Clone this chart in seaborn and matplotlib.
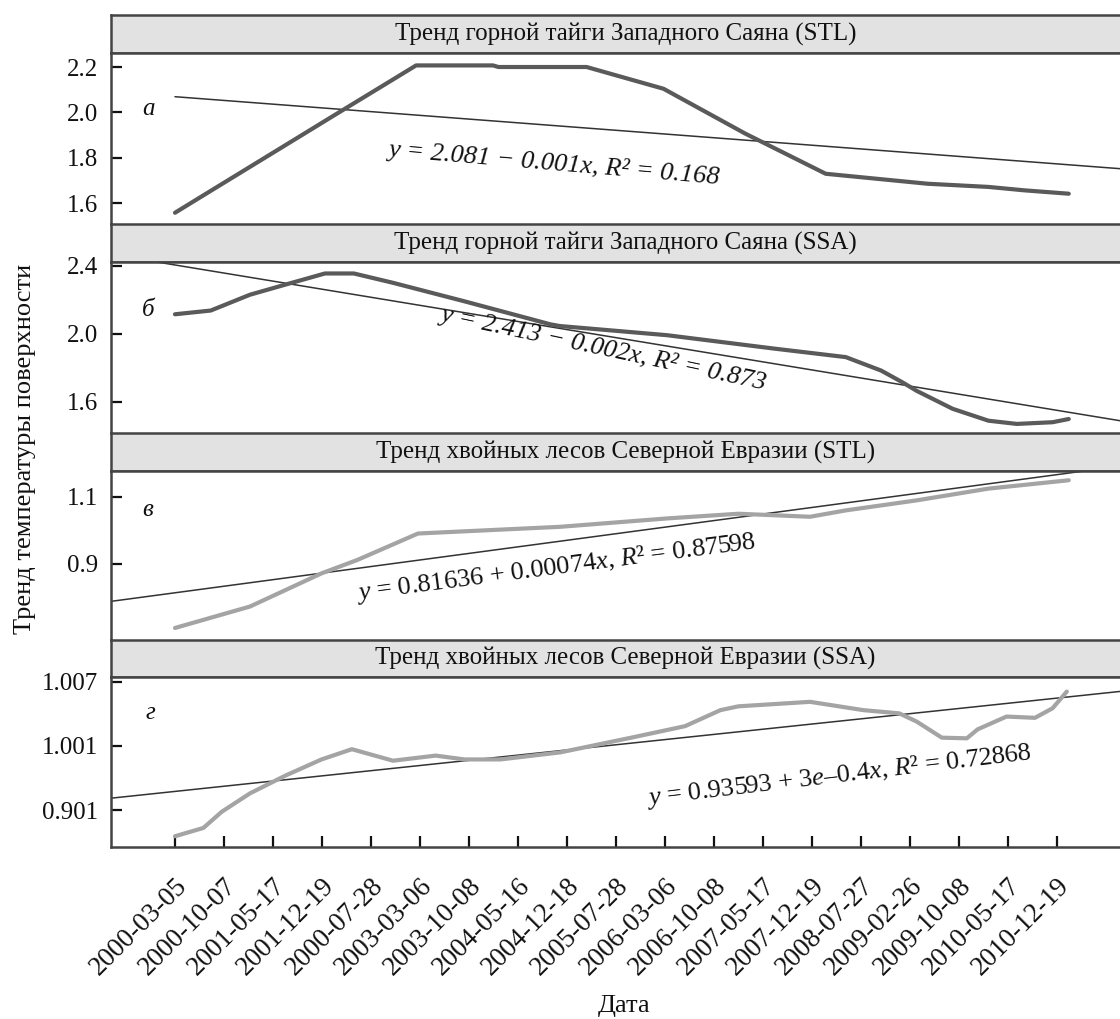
import numpy as np
import pandas as pd
import matplotlib
matplotlib.use("Agg")
import matplotlib.pyplot as plt
import seaborn as sns

sns.set_theme(style="white")
plt.rcParams['font.family'] = ['Liberation Serif', 'DejaVu Serif']
plt.rcParams['mathtext.fontset'] = 'custom'
plt.rcParams['mathtext.rm'] = 'Liberation Serif'
plt.rcParams['mathtext.it'] = 'Liberation Serif:italic'

# ---------------- data ----------------
date_labels = ["2000-03-05", "2000-10-07", "2001-05-17", "2001-12-19", "2000-07-28",
               "2003-03-06", "2003-10-08", "2004-05-16", "2004-12-18", "2005-07-28",
               "2006-03-06", "2006-10-08", "2007-05-17", "2007-12-19", "2008-07-27",
               "2009-02-26", "2009-10-08", "2010-05-17", "2010-12-19"]

panel_titles = ["Тренд горной тайги Западного Саяна (STL)",
                "Тренд горной тайги Западного Саяна (SSA)",
                "Тренд хвойных лесов Северной Евразии (STL)",
                "Тренд хвойных лесов Северной Евразии (SSA)"]
panel_letters = ["а", "б", "в", "г"]

# panel a: mountain taiga, STL
taiga_stl_x = [0.0, 0.80, 2.26, 3.28, 4.45, 4.92, 6.49, 6.60, 8.40, 9.97,
               11.64, 13.28, 15.36, 16.60, 17.33, 18.24]
taiga_stl_y = [1.557, 1.663, 1.856, 1.991, 2.145, 2.207, 2.207, 2.200, 2.200, 2.104,
               1.906, 1.729, 1.685, 1.671, 1.656, 1.641]
taiga_stl_trend_x = [0.0, 19.8]
taiga_stl_trend_y = [2.069, 1.743]

# panel b: mountain taiga, SSA
taiga_ssa_x = [0.0, 0.73, 1.53, 2.26, 3.06, 3.65, 4.45, 5.91, 7.66, 7.85, 10.04,
               12.23, 13.69, 14.41, 14.85, 15.14, 15.87, 16.60, 17.18, 17.91, 18.24]
taiga_ssa_y = [2.116, 2.138, 2.231, 2.291, 2.356, 2.356, 2.301, 2.192, 2.057, 2.047, 1.993,
               1.914, 1.864, 1.785, 1.715, 1.665, 1.560, 1.490, 1.471, 1.481, 1.500]
taiga_ssa_trend_x = [-1.4, 19.8]
taiga_ssa_trend_y = [2.4725, 1.4655]

# panel c: conifer forests, STL
conif_stl_x = [0.0, 1.53, 2.99, 3.72, 4.96, 7.86, 10.04, 11.50, 12.96, 13.69,
               15.14, 16.60, 18.24]
conif_stl_y = [0.709, 0.773, 0.872, 0.912, 0.991, 1.011, 1.036, 1.050, 1.041, 1.060,
               1.090, 1.125, 1.150]
conif_stl_trend_x = [-1.4, 19.8]
conif_stl_trend_y = [0.7866, 1.202]

# panel d: conifer forests, SSA (values on the chart's own tick scale:
# 0 -> "0.901", 1 -> "1.001", 2 -> "1.007")
conif_ssa_x = [0.0, 0.58, 0.95, 1.53, 2.26, 2.99, 3.61, 4.45, 5.32, 5.91, 6.64, 7.86,
               9.31, 10.41, 11.13, 11.50, 12.96, 14.05, 14.78, 15.14, 15.65, 16.16,
               16.38, 16.97, 17.55, 17.91, 18.20]
conif_ssa_y = [-0.41, -0.28, -0.03, 0.26, 0.54, 0.79, 0.95, 0.77, 0.85, 0.79, 0.79, 0.90,
               1.13, 1.31, 1.56, 1.62, 1.69, 1.56, 1.51, 1.38, 1.13, 1.12,
               1.26, 1.46, 1.44, 1.59, 1.85]
conif_ssa_trend_x = [-1.4, 19.8]
conif_ssa_trend_y = [0.177, 1.894]

yticks_a = [1.6, 1.8, 2.0, 2.2]
yticks_b = [1.6, 2.0, 2.4]
yticks_c = [0.9, 1.1]
yticks_d = [0, 1, 2]
yticklabels_d = ["0.901", "1.001", "1.007"]

equations = ["y = 2.081 − 0.001x, R² = 0.168",
             "y = 2.413 − 0.002x, R² = 0.873",
             "$y$ = 0.81636 + 0.00074$x$, $R$² = 0.87598",
             "$y$ = 0.93593 + 3$e$–0.4$x$, $R$² = 0.72868"]

# ---------------- layout ----------------
W, H = 1120, 1019
fig = plt.figure(figsize=(W / 100, H / 100), dpi=100)

def fr(top, bottom):
    return 1 - bottom / H, (bottom - top) / H

left_px, right_px = 111, 1140
ax_left = left_px / W
ax_w = (right_px - left_px) / W

strip_px = [(15, 53), (224, 262), (433, 471), (640, 677)]
panel_px = [(53, 224), (262, 433), (471, 640), (677, 847)]
ylims = [(1.5074, 2.2618), (1.4176, 2.4235), (0.6731, 1.1776), (-0.578, 2.078)]
xlim = (-1.306, 19.694)

series = [
    (taiga_stl_x, taiga_stl_y, taiga_stl_trend_x, taiga_stl_trend_y, "#5a5a5a"),
    (taiga_ssa_x, taiga_ssa_y, taiga_ssa_trend_x, taiga_ssa_trend_y, "#5a5a5a"),
    (conif_stl_x, conif_stl_y, conif_stl_trend_x, conif_stl_trend_y, "#a4a4a4"),
    (conif_ssa_x, conif_ssa_y, conif_ssa_trend_x, conif_ssa_trend_y, "#a4a4a4"),
]
yticks_all = [yticks_a, yticks_b, yticks_c, yticks_d]
ytl_all = [[f"{v:.1f}" for v in yticks_a], [f"{v:.1f}" for v in yticks_b],
           [f"{v:.1f}" for v in yticks_c], yticklabels_d]

# equation anchors (data coords) and rotation
eq_pos = [(4.34, 1.806, -4.8, "italic"), (5.40, 2.082, -12.0, "italic"),
          (3.72, 0.793, 7.4, "normal"), (9.64, 0.077, 6.8, "normal")]
letter_pos = [(-0.55, 2.016), (-0.55, 2.142), (-0.55, 1.060), (-0.51, 1.51)]

spine_c = "#444444"
FS = 18

for i in range(4):
    # strip
    sb, sh = fr(*strip_px[i])
    sax = fig.add_axes([ax_left, sb, ax_w, sh])
    sax.set_facecolor("#e2e2e2")
    sax.set_xticks([]); sax.set_yticks([])
    for s in sax.spines.values():
        s.set_color(spine_c); s.set_linewidth(1.8); s.set_visible(True)
    sax.text(0.5, 0.5, panel_titles[i], transform=sax.transAxes, ha="center",
             va="center", fontsize=FS, color="#111111")

    pb, ph = fr(*panel_px[i])
    ax = fig.add_axes([ax_left, pb, ax_w, ph])
    ax.set_facecolor("white")
    x, y, tx, ty, col = series[i]
    df = pd.DataFrame({"x": x, "y": y})
    dft = pd.DataFrame({"x": tx, "y": ty})
    sns.lineplot(data=dft, x="x", y="y", ax=ax, color="#333333", linewidth=1.1,
                 sort=False, estimator=None)
    sns.lineplot(data=df, x="x", y="y", ax=ax, color=col, linewidth=3.0,
                 sort=False, estimator=None)
    ax.set_xlim(*xlim)
    ax.set_ylim(*ylims[i])
    ax.set_xlabel(""); ax.set_ylabel("")
    ax.set_yticks(yticks_all[i])
    ax.set_yticklabels(ytl_all[i])
    ax.tick_params(axis="y", direction="in", length=8, width=1.6, colors="#111111",
                   labelsize=FS, pad=9, left=True)
    for s in ax.spines.values():
        s.set_color(spine_c); s.set_linewidth(1.8)
    ax.spines["right"].set_visible(False)
    if i < 3:
        ax.set_xticks([])
        ax.spines["bottom"].set_visible(False)
    else:
        ax.set_xticks(range(len(date_labels)))
        ax.set_xticklabels(date_labels, rotation=45, ha="right", va="top",
                           rotation_mode="anchor")
        ax.tick_params(axis="x", direction="in", length=8, width=1.6, colors="#111111",
                       labelsize=19.5, pad=19, bottom=True)

    ex, ey, rot, sty = eq_pos[i]
    ax.text(ex, ey, equations[i], fontsize=19, fontstyle=sty, rotation=rot,
            rotation_mode="anchor", ha="left", va="baseline", color="#111111")
    lx, ly = letter_pos[i]
    ax.text(lx, ly, panel_letters[i], fontsize=FS, fontstyle="italic",
            ha="center", va="center", color="#111111")

fig.text(25 / W, 1 - 449 / H, "Тренд температуры поверхности", rotation=90,
         ha="center", va="center", fontsize=19, color="#111111")
fig.text(624 / W, 1 - 1006 / H, "Дата", ha="center", va="center", fontsize=19,
         color="#111111")

fig.savefig("out.png", dpi=100)
